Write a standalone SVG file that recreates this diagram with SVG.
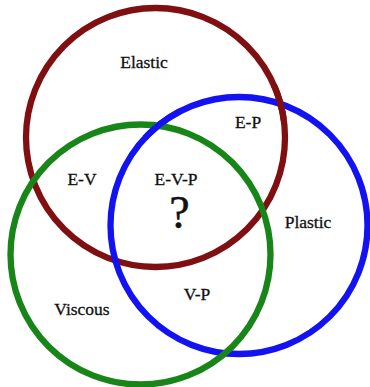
<svg xmlns="http://www.w3.org/2000/svg" width="370" height="387" viewBox="0 0 370 387">
<style>
.c{fill:none;stroke-width:6.3}
.r{stroke:#800f12}
.b{stroke:#1212f2}
.g{stroke:#178517}
text{font-family:"Liberation Serif","Times New Roman",Times,serif;font-size:17.5px;fill:#111;stroke:#111;stroke-width:0.3;text-anchor:middle}
</style>
<rect width="370" height="387" fill="#fff"/>
<g id="circles">
<g id="elastic"><circle class="c r" cx="155.5" cy="137.5" r="129.5"/></g>
<g id="plastic"><circle class="c b" cx="239" cy="225.5" r="128.5"/></g>
<g id="viscous"><circle class="c g" cx="140.5" cy="254.5" r="130"/></g>
<path class="c b" d="M145,137.9 A128.5,128.5 0 0 1 180,111.3"/>
<path class="c r" d="M273.9,85 A129.5,129.5 0 0 1 283.8,120"/>
</g>
<g id="labels">
<text x="144" y="68">Elastic</text>
<text x="248" y="128">E-P</text>
<text x="82" y="185">E-V</text>
<text x="176" y="185">E-V-P</text>
<text x="179.5" y="228" style="font-size:46px;stroke-width:0.5">?</text>
<text x="308" y="228">Plastic</text>
<text x="197" y="300">V-P</text>
<text x="82" y="315">Viscous</text>
</g>
</svg>
